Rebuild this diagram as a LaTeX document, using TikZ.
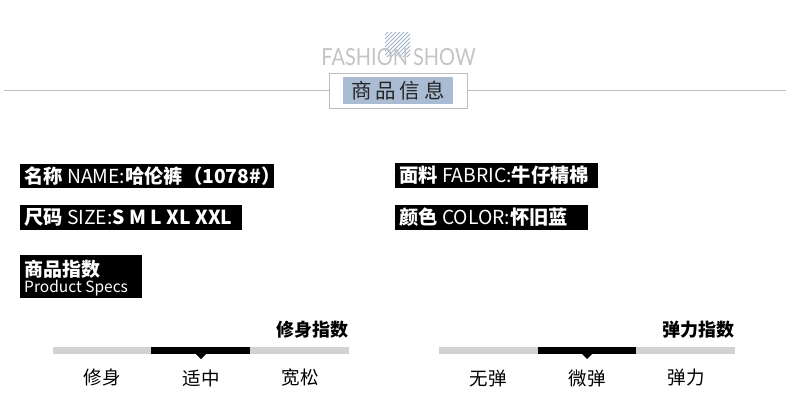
\documentclass[tikz,border=0pt]{standalone}
\usepackage{fontspec}
\setmainfont{Noto Sans CJK SC}
\newfontfamily\latofont{Lato}
\definecolor{hdrblue}{HTML}{A9BCD3}
\definecolor{hatchblue}{HTML}{9FB4CC}
\definecolor{barGray}{HTML}{D2D2D2}
\definecolor{lineGray}{HTML}{BDBDBD}
\definecolor{fashGray}{HTML}{C4C4C4}
\tikzset{
  labeltxt/.style={text=white, anchor=west, inner sep=0pt, font=\fontsize{19.3}{21}\selectfont},
  scaletxt/.style={font=\fontsize{18.5}{20}\selectfont, anchor=center, inner sep=0pt},
  idxtitle/.style={font=\fontsize{18}{20}\selectfont\bfseries, anchor=east, inner sep=0pt}
}
\begin{document}
\begin{tikzpicture}[x=1pt,y=-1pt]
\useasboundingbox (0,0) rectangle (790,418);
% hatched square
\begin{scope}
\clip (385,32) rectangle (410,57);
\foreach \i in {-30,-26,...,30}{
  \draw[hatchblue, line width=0.9pt] (385+\i,57) -- (410+\i,32);
}
\end{scope}
\node[font=\latofont\fontsize{23.5}{26}\selectfont, text=fashGray, inner sep=0pt, anchor=base] (fash) at (398.5,65) {\scalebox{0.85}[1]{FASHION SHOW}};
% header line and box
\draw[lineGray, line width=0.8pt] (4,90) -- (329,90);
\draw[lineGray, line width=0.8pt] (467,90) -- (786,90);
\draw[lineGray, line width=0.8pt] (329,73) rectangle (467,108);
\fill[hdrblue] (343,77) rectangle (453,104);
\node[font=\fontsize{20.5}{22}\selectfont, text=black!85, inner sep=0pt] (hdr) at (398,90.5) {商\hspace{4pt}品\hspace{4pt}信\hspace{4pt}息};
% black labels
\fill (20,164) rectangle (274,188);
\node[labeltxt] (name) at (24,176) {\textbf{名称} NAME:\textbf{哈伦裤（1078\#）}};
\fill (20,205) rectangle (242,230);
\node[labeltxt] (size) at (24,217.5) {\textbf{尺码} SIZE:\textbf{S M L XL XXL}};
\fill (395,163) rectangle (598,188);
\node[labeltxt] (fabric) at (399,175.5) {\textbf{面料} FABRIC:\textbf{牛仔精棉}};
\fill (395,205) rectangle (588,230);
\node[labeltxt] (color) at (399,217.5) {\textbf{颜色} COLOR:\textbf{怀旧蓝}};
\fill (20,255) rectangle (142,298);
\node[text=white, anchor=west, inner sep=0pt, font=\fontsize{19}{21}\selectfont\bfseries] (specs) at (24,269) {商品指数};
\node[text=white, anchor=west, inner sep=0pt, font=\fontsize{15.5}{17}\selectfont] (specsen) at (24,288) {Product Specs};
% left scale
\node[idxtitle] (fitt) at (349,330) {修身指数};
\fill[barGray] (53,347) rectangle (151,354);
\fill[black] (151,347) rectangle (250,354);
\fill[barGray] (250,347) rectangle (349,354);
\fill[black] (196,354) -- (206,354) -- (201,359) -- cycle;
\node[scaletxt] (l1) at (102,378) {修身};
\node[scaletxt] (l2) at (201,378) {适中};
\node[scaletxt] (l3) at (300,378) {宽松};
% right scale
\node[idxtitle] (elt) at (735,330) {弹力指数};
\fill[barGray] (439,347) rectangle (538,354);
\fill[black] (538,347) rectangle (636,354);
\fill[barGray] (636,347) rectangle (735,354);
\fill[black] (582,354) -- (592,354) -- (587,359) -- cycle;
\node[scaletxt] (r1) at (488,378) {无弹};
\node[scaletxt] (r2) at (587,378) {微弹};
\node[scaletxt] (r3) at (686,378) {弹力};
\end{tikzpicture}
\end{document}
